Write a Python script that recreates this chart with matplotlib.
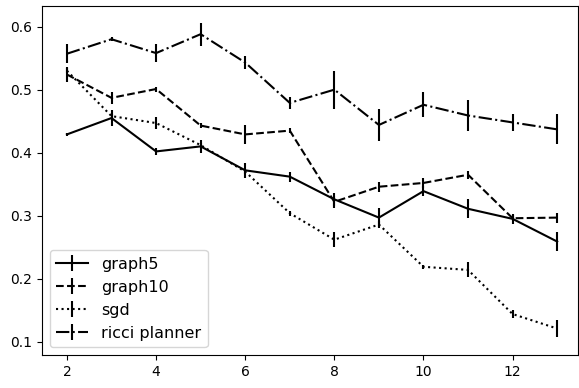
import numpy as np
import matplotlib
matplotlib.use('Agg')
import matplotlib.pyplot as plt

# Data
steps = [2, 3, 4, 5, 6, 7, 8, 9, 10, 11, 12, 13]

graph5 = [0.429, 0.455, 0.402, 0.410, 0.372, 0.362, 0.326, 0.297, 0.339, 0.311, 0.295, 0.259]
graph5_err = [0.003, 0.012, 0.006, 0.010, 0.012, 0.008, 0.010, 0.015, 0.008, 0.015, 0.008, 0.015]

graph10 = [0.524, 0.487, 0.501, 0.443, 0.429, 0.435, 0.322, 0.346, 0.352, 0.365, 0.296, 0.297]
graph10_err = [0.012, 0.010, 0.004, 0.004, 0.015, 0.004, 0.010, 0.008, 0.008, 0.006, 0.005, 0.008]

sgd = [0.530, 0.458, 0.447, 0.412, 0.370, 0.304, 0.262, 0.286, 0.219, 0.214, 0.144, 0.121]
sgd_err = [0.004, 0.004, 0.010, 0.004, 0.004, 0.004, 0.012, 0.006, 0.003, 0.012, 0.006, 0.014]

ricci = [0.557, 0.580, 0.558, 0.588, 0.543, 0.479, 0.500, 0.444, 0.476, 0.459, 0.448, 0.437]
ricci_err = [0.015, 0.003, 0.014, 0.018, 0.010, 0.010, 0.030, 0.025, 0.020, 0.025, 0.014, 0.024]

fig = plt.figure(figsize=(5.79, 3.88), dpi=100)
ax = fig.add_axes([0.0725, 0.085, 0.926, 0.9])

ax.errorbar(steps, graph5, yerr=graph5_err, fmt='k-', label='graph5')
ax.errorbar(steps, graph10, yerr=graph10_err, fmt='k--', label='graph10')
ax.errorbar(steps, sgd, yerr=sgd_err, fmt='k:', label='sgd')
ax.errorbar(steps, ricci, yerr=ricci_err, fmt='k-.', label='ricci planner')

ax.set_xlim(1.44, 13.47)
ax.set_ylim(0.079, 0.633)
ax.set_xticks([2, 4, 6, 8, 10, 12])
ax.set_yticks([0.1, 0.2, 0.3, 0.4, 0.5, 0.6])
ax.legend(loc='lower left', fontsize=11.5)

fig.savefig('out.png', dpi=100)
